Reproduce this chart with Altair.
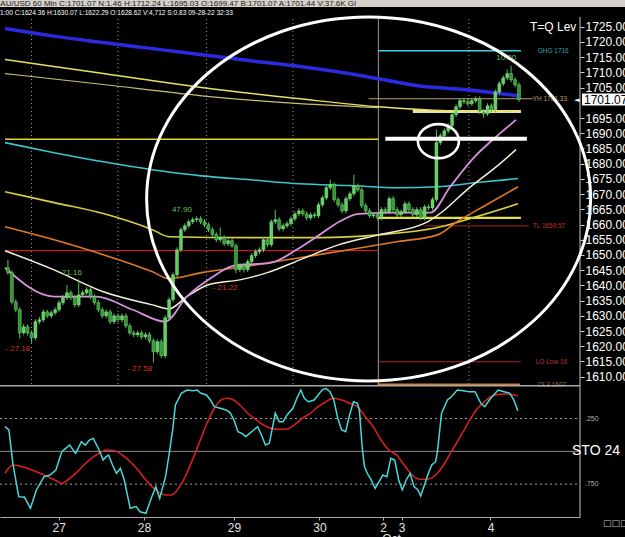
import altair as alt
import pandas as pd

FONT = "Liberation Sans"

# ---------------- header texts ----------------
header_top = "XAU/USD 60 Min C:1701.07 N:1.46 H:1712.24 L:1695.03 O:1699.47 B:1701.07 A:1701.44 V:37.6K GI"
header_bar = "1:00 C:1624.36 H:1630.07 L:1622.29 O:1628.62 V:4,712 S:0.83 09-28-22 32:33"

# ---------------- x axis (hourly bar index) ----------------
day_pos = [12.9, 34.6, 57.5, 79.25, 95.4, 100.15, 122.75]
day_lbl = ["27", "28", "29", "30", "2", "3", "4"]
day_sep = [6, 28, 50.5, 72.5, 117.25]
month_sep = [94.25]
# 1700.00 sits under the last-price box, so it is not listed
price_ticks = [1610, 1615, 1620, 1625, 1630, 1635, 1640, 1645, 1650, 1655, 1660, 1665,
               1670, 1675, 1680, 1685, 1690, 1695, 1705, 1710, 1715, 1720, 1725]

# ---------------- candles ----------------
opens = [1645.8,1644.2,1634.6,1632.0,1624.4,1626.4,1624.4,1622.8,1628.1,1628.7,
         1631.3,1630.0,1631.0,1632.0,1634.3,1636.0,1637.6,1636.0,1633.6,1636.9,
         1637.6,1638.6,1636.3,1634.3,1632.0,1630.0,1631.3,1628.1,1630.0,1628.7,
         1630.0,1626.7,1624.4,1623.8,1624.4,1623.1,1623.8,1621.8,1618.2,1621.5,
         1616.9,1629.4,1635.3,1643.5,1651.7,1658.3,1659.6,1660.9,1661.6,1661.9,
         1660.9,1659.9,1658.3,1656.7,1655.0,1655.7,1653.7,1654.7,1653.0,1645.2,
         1646.5,1645.2,1647.8,1649.8,1651.1,1651.7,1655.0,1653.4,1660.9,1661.6,
         1658.6,1659.6,1660.3,1661.9,1663.5,1664.5,1663.5,1662.2,1663.2,1662.9,
         1666.5,1668.8,1672.1,1673.1,1668.2,1666.5,1664.5,1668.5,1670.1,1672.7,
         1671.4,1666.2,1664.5,1662.9,1663.2,1662.2,1664.9,1664.2,1668.5,1664.9,
         1663.2,1664.2,1666.8,1664.9,1663.2,1664.9,1662.2,1665.8,1665.5,1668.2,
         1686.9,1689.2,1690.8,1692.5,1696.1,1698.7,1700.7,1700.4,1699.7,1700.7,
         1701.3,1697.1,1696.4,1699.0,1697.7,1703.6,1706.3,1708.2,1709.6,1707.6,
         1705.9]
closes = [1644.2,1634.6,1632.0,1624.4,1626.4,1624.4,1622.8,1628.1,1628.7,1631.3,
          1630.0,1631.0,1632.0,1634.3,1636.0,1637.6,1636.0,1633.6,1636.9,1637.6,
          1638.6,1636.3,1634.3,1632.0,1630.0,1631.3,1628.1,1630.0,1628.7,1630.0,
          1626.7,1624.4,1623.8,1624.4,1623.1,1623.8,1621.8,1618.2,1621.5,1616.9,
          1629.4,1635.3,1643.5,1651.7,1658.3,1659.6,1660.9,1661.6,1661.9,1660.9,
          1659.9,1658.3,1656.7,1655.0,1655.7,1653.7,1654.7,1653.0,1645.2,1646.5,
          1645.2,1647.8,1649.8,1651.1,1651.7,1655.0,1653.4,1660.9,1661.6,1658.6,
          1659.6,1660.3,1661.9,1663.5,1664.5,1663.5,1662.2,1663.2,1662.9,1666.5,
          1668.8,1672.1,1673.1,1668.2,1666.5,1664.5,1668.5,1670.1,1672.7,1671.4,
          1666.2,1664.5,1662.9,1663.2,1662.2,1664.9,1664.2,1668.5,1664.9,1663.2,
          1664.2,1666.8,1664.9,1663.2,1664.9,1662.2,1665.8,1665.5,1668.2,1686.9,
          1689.2,1690.8,1692.5,1696.1,1698.7,1700.7,1700.4,1699.7,1700.7,1701.3,
          1697.1,1696.4,1699.0,1697.7,1703.6,1706.3,1708.2,1709.6,1707.6,1705.9,
          1701.07]
highs = [1648.4,1645.0,1635.4,1632.8,1627.3,1627.2,1625.2,1628.9,1629.6,1632.1,
         1632.0,1631.8,1632.8,1635.1,1636.8,1640.2,1638.4,1636.8,1641.9,1638.4,
         1639.4,1639.4,1637.1,1635.1,1632.8,1632.1,1632.1,1630.8,1630.8,1630.8,
         1630.8,1627.5,1625.2,1625.2,1625.2,1624.6,1624.6,1622.6,1622.3,1622.3,
         1630.2,1636.1,1644.3,1652.5,1659.1,1660.4,1661.7,1662.4,1662.7,1662.7,
         1661.7,1660.7,1659.1,1657.5,1659.0,1656.5,1655.5,1655.5,1653.8,1647.3,
         1647.3,1648.6,1650.6,1651.9,1652.5,1655.8,1655.8,1661.7,1664.9,1662.4,
         1660.4,1661.1,1662.7,1664.3,1665.3,1665.3,1664.3,1664.0,1664.0,1667.3,
         1669.6,1672.9,1674.7,1673.9,1669.0,1667.3,1669.3,1670.9,1676.4,1673.5,
         1672.2,1667.0,1665.3,1664.0,1664.0,1665.7,1665.7,1669.3,1669.3,1665.7,
         1665.0,1667.6,1667.6,1665.7,1665.7,1665.7,1666.6,1666.6,1669.0,1691.2,
         1690.0,1691.6,1693.3,1696.9,1699.5,1701.5,1701.5,1701.2,1701.5,1702.1,
         1702.1,1697.9,1699.8,1699.8,1704.4,1707.1,1709.0,1710.9,1712.2,1708.4,
         1706.7]
lows = [1643.5,1633.8,1631.2,1622.5,1623.6,1623.5,1621.2,1622.0,1627.3,1627.9,
        1629.2,1629.2,1630.2,1631.2,1633.5,1635.2,1635.2,1632.8,1632.8,1636.1,
        1636.8,1635.5,1633.5,1631.2,1629.2,1629.2,1627.3,1627.3,1627.9,1627.9,
        1625.9,1623.6,1623.0,1623.0,1622.3,1622.3,1621.0,1614.6,1617.4,1616.1,
        1616.1,1628.6,1634.5,1642.7,1650.9,1657.5,1658.8,1660.1,1660.8,1660.1,
        1659.1,1657.5,1655.9,1654.2,1654.2,1652.9,1652.9,1652.2,1644.0,1644.4,
        1644.2,1644.4,1647.0,1649.0,1650.3,1650.9,1652.6,1652.6,1660.1,1657.8,
        1657.8,1658.8,1659.5,1661.1,1662.7,1662.7,1661.4,1661.4,1662.1,1662.1,
        1665.7,1668.0,1671.3,1667.4,1665.7,1663.7,1663.7,1667.7,1669.3,1670.6,
        1665.4,1663.7,1662.1,1662.1,1661.4,1661.4,1663.4,1663.4,1664.1,1662.4,
        1662.4,1663.4,1664.1,1662.4,1662.4,1661.4,1661.4,1664.7,1664.7,1667.4,
        1686.1,1688.4,1690.0,1691.7,1695.3,1697.9,1699.6,1698.9,1698.9,1699.9,
        1696.3,1695.0,1695.6,1696.9,1696.9,1702.8,1705.5,1707.4,1706.8,1705.1,
        1700.3]
bar_idx = list(range(len(closes)))

# ---------------- moving averages (bar index, price) ----------------
blue_k = [-0.75, 11.75, 24.25, 36.75, 49.25, 61.75, 74.25, 86.75, 94.25, 104.25, 116.75, 129.75]
blue_p = [1724.4, 1721.9, 1719.8, 1717.8, 1715.8, 1713.8, 1711.9, 1709.6, 1707.9, 1705.6, 1704.3, 1702.3]
yela_k = [-0.75, 24.25, 49.25, 74.25, 94.25, 111.75, 129.75]
yela_p = [1714.2, 1709.6, 1705.0, 1701.3, 1698.7, 1697.4, 1697.1]
yelb_k = [-0.75, 24.25, 49.25, 74.25, 94.25]
yelb_p = [1709.6, 1706.0, 1702.3, 1699.7, 1698.4]
cyan_k = [-0.75, 11.75, 24.25, 36.75, 49.25, 61.75, 74.25, 86.75, 99.25, 109.25, 119.25, 129.75]
cyan_p = [1686.9, 1683.6, 1680.6, 1678.0, 1676.0, 1674.7, 1673.4, 1672.8, 1672.1, 1672.4, 1673.8, 1675.1]
yell_k = [-0.75, 11.75, 24.25, 36.75, 41.0, 61.75, 79.25, 94.25, 109.25, 119.25, 129.75]
yell_p = [1670.8, 1667.2, 1663.6, 1658.3, 1656.0, 1655.7, 1655.7, 1656.6, 1659.0, 1662.6, 1666.8]
orng_k = [-0.75, 11.75, 24.25, 36.75, 41.0, 49.25, 61.75, 74.25, 86.75, 99.25, 109.25, 114.25, 121.75, 129.75]
orng_p = [1659.3, 1655.0, 1650.1, 1644.5, 1642.2, 1644.2, 1646.5, 1649.1, 1651.7, 1654.4, 1656.6, 1660.9, 1666.5, 1672.4]
whte_k = [-0.75, 11.75, 24.25, 36.75, 41.0, 45.5, 51.0, 59.25, 66.0, 74.25, 84.25, 94.25, 106.75, 110.5, 116.75, 124.25, 129.25]
whte_p = [1651.4, 1645.1, 1637.9, 1633.6, 1632.3, 1636.3, 1640.2, 1641.9, 1644.2, 1648.4, 1653.4, 1656.6, 1660.9, 1664.2, 1671.4, 1679.0, 1684.6]
pink_k = [-0.75, 11.75, 22.5, 31.75, 40.0, 45.5, 51.75, 57.5, 66.75, 74.25, 79.25, 84.25, 89.25, 99.25, 107.5, 112.5, 118.75, 124.25, 129.25]
pink_p = [1645.8, 1636.3, 1636.3, 1632.0, 1628.1, 1636.3, 1642.5, 1646.5, 1647.4, 1652.4, 1656.6, 1660.9, 1663.5, 1663.9, 1663.9, 1672.4, 1682.3, 1688.9, 1694.4]

# ---------------- horizontal levels ----------------
lvl_names = ["yellow_old", "red_old", "ghg", "yh", "pale", "yellow_new", "tl", "lo", "ol3", "white_mark"]
lvl_price = [1688.0, 1651.4, 1717.1, 1701.33, 1697.1, 1662.2, 1659.57, 1614.9, 1607.4, 1688.2]
lvl_from = [-0.75, -0.75, 94.25, 91.75, 103.0, 94.25, 106.0, 94.25, 94.0, 96.0]
lvl_to = [94.25, 94.25, 130.5, 133.5, 130.5, 130.5, 132.5, 130.5, 130.25, 132.0]

lvl_lbl_text = ["GHG 1716", "YH 1701.33", "TL 1659.57", "LO Low 16", "OL3 1607"]
lvl_lbl_k = [134.75, 133.5, 133.5, 134.25, 134.75]
lvl_lbl_p = [1717.1, 1701.33, 1659.57, 1614.9, 1607.4]

# price pane annotations
note_text = ["47.90", "21.16", "10.80", "- 27.18", "- 27.58", "- 21.22"]
note_k = [44.25, 16.25, 126.75, 2.5, 33.5, 55.25]
note_p = [1664.9, 1644.2, 1714.8, 1619.2, 1612.6, 1639.2]
note_kind = ["hi", "hi", "hi", "lo", "lo", "lo"]

ellipse_k = [91.75]
ellipse_p = [1668.4]
ring_k = [109.5]
ring_p = [1687.4]

# ---------------- stochastic ----------------
fast_k = [-0.75,0.25,1.24,2.74,4.23,5.72,7.22,9.21,10.7,12.2,
          13.7,14.7,15.7,17.2,18.7,19.7,20.7,21.7,23.2,24.2,
          25.0,25.6,26.6,27.6,28.6,29.6,31.1,32.6,33.6,35.1,
          36.6,37.6,38.6,40.1,41.1,41.9,42.6,44.1,45.6,47.1,
          48.1,49.1,50.5,51.5,52.5,54.0,55.5,56.5,57.5,58.5,
          59.5,60.5,61.5,62.5,63.5,64.5,65.5,66.5,67.5,68.0,
          69.0,70.0,71.0,72.5,73.5,74.5,75.4,76.4,77.9,78.9,
          79.9,80.9,81.9,82.9,83.9,84.9,85.9,86.9,87.9,88.9,
          89.4,90.1,90.7,91.4,92.4,93.4,94.4,95.4,96.4,97.4,
          98.4,99.4,100.3,101.3,102.3,103.3,104.3,105.0,105.8,106.8,
          107.8,108.8,109.3,110.3,111.8,112.8,114.3,115.8,117.3,118.8,
          120.3,121.3,122.8,124.7,126.2,127.7,128.7,129.7]
fast_v = [312,337,591,845,850,934,794,693,680,642,
          502,477,452,515,426,452,414,401,490,566,
          540,528,604,667,629,718,934,921,960,972,
          845,769,858,693,502,337,147,58,33,38,
          33,58,71,109,160,172,185,205,261,350,
          363,388,363,337,312,375,452,439,287,210,
          274,274,223,172,96,33,96,122,109,71,
          33,20,46,109,248,337,350,223,122,134,
          185,464,617,667,718,782,731,680,693,553,
          566,718,794,718,667,769,794,840,769,680,
          604,579,490,210,109,84,33,38,46,46,
          134,160,96,33,46,58,109,190]
slow_k = [-0.75,1.24,4.23,7.22,10.2,12.7,13.7,15.2,17.7,20.2,
          23.2,25.1,27.1,29.1,31.1,33.1,35.1,37.6,40.1,41.6,
          43.1,45.1,47.1,49.1,51.0,52.5,54.0,55.5,57.0,59.0,
          61.0,63.0,65.0,67.0,69.0,71.0,72.9,74.9,76.9,78.9,
          80.9,82.9,84.9,86.9,88.9,90.9,92.9,94.9,96.9,98.9,
          100.8,102.8,104.8,106.8,108.8,110.8,112.8,114.8,116.8,118.8,
          120.8,122.8,124.7,126.7,128.7,129.7]
slow_v = [667,604,622,655,693,731,744,718,655,579,
          515,490,495,528,579,642,718,794,833,833,
          794,693,553,401,261,172,114,96,104,147,
          210,256,299,325,332,330,299,248,210,160,
          122,96,109,134,160,236,312,414,490,528,
          604,680,713,711,680,604,502,401,299,198,
          134,84,66,63,71,78]
sto_lines = [0, 500]
sto_dotted = [250, 750]

# ---------------- scales / axes ----------------
XS = alt.Scale(domain=[-0.75, 144.25], nice=False, zero=False)
label_expr = " : ".join(f"datum.value == {v} ? '{t}'" for v, t in zip(day_pos, day_lbl)) + " : ''"
XA = alt.Axis(values=day_pos, labelExpr=label_expr, title="Oct", titleX=391, titleY=16,
              titleBaseline="top", titleAlign="center", titleColor="#e0e0e0", titleFontSize=12,
              titleFont=FONT, titleFontWeight="normal", labelColor="#e0e0e0", labelFontSize=12,
              labelFont=FONT, labelPadding=2, tickSize=3, tickColor="#b0b0b0",
              domainColor="#a8a8a8", domainWidth=1.2, grid=False, labelOverlap=False, labelFlush=False)
PS = alt.Scale(domain=[1610, 1725], range=[376.7, 26.7], nice=False, zero=False)
PA = alt.Axis(orient="right", values=price_ticks, format=".2f", title=None, labelColor="#ffffff",
              labelFontSize=12, labelFont=FONT, tickColor="#d0d0d0", tickSize=4, labelPadding=1,
              domain=False, grid=False, labelOverlap=False, labelFlush=False)
SS = alt.Scale(domain=[0, 1000], range=[385.7, 517], nice=False, zero=False)


def px(f):
    return alt.X(f, type="quantitative", scale=XS, axis=XA)


def py(f):
    return alt.Y(f, type="quantitative", scale=PS, axis=PA)


def sy(f):
    return alt.Y(f, type="quantitative", scale=SS, axis=None)


one = pd.DataFrame({"n": [0]})
price_layers = []

# header
price_layers.append(alt.Chart(one).mark_rect(color="#d4d0c8").encode(
    x=alt.value(0), x2=alt.value(625), y=alt.value(0), y2=alt.value(7)))
price_layers.append(alt.Chart(pd.DataFrame({"t": [header_top]})).mark_text(
    align="left", baseline="alphabetic", fontSize=8, font=FONT, color="#1a1a1a").encode(
    x=alt.value(-5), y=alt.value(5.5), text="t:N"))
price_layers.append(alt.Chart(pd.DataFrame({"t": [header_bar]})).mark_text(
    align="left", baseline="middle", fontSize=6.6, font=FONT, color="#ffffff").encode(
    x=alt.value(0), y=alt.value(12.7), text="t:N"))

# vertical separators
price_layers.append(alt.Chart(pd.DataFrame({"k": day_sep})).mark_rule(
    color="#9a9a9a", strokeWidth=1, strokeDash=[1, 3]).encode(
    x=px("k"), y=alt.value(19), y2=alt.value(385)))
price_layers.append(alt.Chart(pd.DataFrame({"k": month_sep})).mark_rule(
    color="#8a8080", strokeWidth=1.2).encode(x=px("k"), y=alt.value(17), y2=alt.value(385)))
# right frame line
price_layers.append(alt.Chart(one).mark_rule(color="#c8c8c8", strokeWidth=1).encode(
    x=alt.value(580), y=alt.value(17), y2=alt.value(517)))

# level segments
lvl_style = {
    "yellow_old": ("#e6d42a", 1.5), "red_old": ("#c02020", 1.2), "ghg": ("#40d0e0", 1.6),
    "yh": ("#b8a070", 1.0), "pale": ("#e8e4a8", 3.0), "yellow_new": ("#e8e040", 2.2),
    "tl": ("#b02020", 1.0), "lo": ("#c02020", 1.0), "ol3": ("#d08030", 2.0),
}
lvl_df = pd.DataFrame({"name": lvl_names, "p": lvl_price, "k0": lvl_from, "k1": lvl_to})
for name, (col, wdt) in lvl_style.items():
    price_layers.append(alt.Chart(lvl_df[lvl_df.name == name]).mark_rule(
        color=col, strokeWidth=wdt).encode(x=px("k0"), x2="k1", y=py("p")))

# moving averages
ma_defs = [
    (blue_k, blue_p, "#2a2ae0", 3.5),
    (yela_k, yela_p, "#e8e060", 1.5),
    (yelb_k, yelb_p, "#c8c070", 1.2),
    (cyan_k, cyan_p, "#38c8d0", 1.6),
    (yell_k, yell_p, "#d8d040", 1.6),
    (orng_k, orng_p, "#e07828", 1.6),
    (whte_k, whte_p, "#f4f0d8", 1.5),
    (pink_k, pink_p, "#d890e0", 1.8),
]
for ks, ps, col, wdt in ma_defs:
    price_layers.append(alt.Chart(pd.DataFrame({"k": ks, "p": ps})).mark_line(
        color=col, strokeWidth=wdt, interpolate="monotone").encode(x=px("k"), y=py("p")))

# candles
cdf = pd.DataFrame({"k": bar_idx, "o": opens, "h": highs, "l": lows, "c": closes})
cdf["dir"] = ["up" if c >= o else "down" for o, c in zip(opens, closes)]
price_layers.append(alt.Chart(cdf).mark_rule(color="#58c058", strokeWidth=1).encode(
    x=px("k"), y=py("l"), y2="h"))
price_layers.append(alt.Chart(cdf).mark_bar(size=3, stroke="#a0f0a0", strokeWidth=0.4).encode(
    x=px("k"), y=py("o"), y2="c",
    color=alt.Color("dir:N", scale=alt.Scale(domain=["up", "down"], range=["#62d062", "#2e9a2e"]), legend=None)))

# white annotation line (drawn over candles)
price_layers.append(alt.Chart(lvl_df[lvl_df.name == "white_mark"]).mark_rule(
    color="#ffffff", strokeWidth=4).encode(x=px("k0"), x2="k1", y=py("p")))

# price annotations
ndf = pd.DataFrame({"t": note_text, "k": note_k, "p": note_p, "kind": note_kind})
price_layers.append(alt.Chart(ndf[ndf.kind == "hi"]).mark_text(
    fontSize=8, font=FONT, color="#60c060").encode(x=px("k"), y=py("p"), text="t:N"))
price_layers.append(alt.Chart(ndf[ndf.kind == "lo"]).mark_text(
    fontSize=8, font=FONT, color="#d03030").encode(x=px("k"), y=py("p"), text="t:N"))

# level labels
llc = ["#3aa0a8", "#b8a070", "#c03030", "#c03030", "#907050"]
for t, k, p, col in zip(lvl_lbl_text, lvl_lbl_k, lvl_lbl_p, llc):
    price_layers.append(alt.Chart(pd.DataFrame({"t": [t], "k": [k], "p": [p]})).mark_text(
        align="left", baseline="middle", fontSize=6.5, font=FONT, color=col).encode(
        x=px("k"), y=py("p"), text="t:N"))

price_layers.append(alt.Chart(pd.DataFrame({"t": ["T=Q Lev"]})).mark_text(
    align="left", baseline="middle", fontSize=12, font=FONT, color="#ffffff").encode(
    x=alt.value(530), y=alt.value(27), text="t:N"))

# ellipse and ring
ell_path = "M-1,0A1,0.82,0,1,0,1,0A1,0.82,0,1,0,-1,0Z"
price_layers.append(alt.Chart(pd.DataFrame({"k": ellipse_k, "p": ellipse_p})).mark_point(
    shape=ell_path, size=197136, filled=False, stroke="#ffffff", strokeWidth=3, opacity=1).encode(
    x=px("k"), y=py("p")))
ring_path = "M-1,0A1,0.83,0,1,0,1,0A1,0.83,0,1,0,-1,0Z"
price_layers.append(alt.Chart(pd.DataFrame({"k": ring_k, "p": ring_p})).mark_point(
    shape=ring_path, size=1681, filled=False, stroke="#ffffff", strokeWidth=2.6, opacity=1).encode(
    x=px("k"), y=py("p")))

# last price box
last = pd.DataFrame({"c": [closes[-1]], "t": [f"{closes[-1]:.2f}"]})
box_path = "M-1,-0.28L1,-0.28L1,0.28L-1,0.28Z"
price_layers.append(alt.Chart(last).mark_point(
    shape=box_path, size=1849, filled=True, color="#ffffff", opacity=1).encode(
    x=alt.value(603.5), y=py("c")))
price_layers.append(alt.Chart(last).mark_text(
    align="left", baseline="middle", fontSize=12, font=FONT, color="#000000").encode(
    x=alt.value(584), y=py("c"), text="t:N"))
price_layers.append(alt.Chart(last).mark_text(
    align="center", baseline="middle", fontSize=7, font="DejaVu Sans", color="#ffffff").encode(
    x=alt.value(577), y=py("c"), text=alt.value("◄")))

price = alt.layer(*price_layers)

# ---------------- stochastic pane ----------------
sto_layers = []
sto_layers.append(alt.Chart(pd.DataFrame({"v": [sto_lines[0]]})).mark_rule(
    color="#a8a8a8", strokeWidth=1.5).encode(x=alt.value(0), x2=alt.value(580), y=sy("v")))
sto_layers.append(alt.Chart(pd.DataFrame({"v": [sto_lines[1]]})).mark_rule(
    color="#8c8c8c", strokeWidth=1).encode(x=alt.value(0), x2=alt.value(580), y=sy("v")))
sto_layers.append(alt.Chart(pd.DataFrame({"v": sto_dotted})).mark_rule(
    color="#a0a0a0", strokeWidth=1, strokeDash=[2, 3]).encode(x=alt.value(0), x2=alt.value(580), y=sy("v")))
sto_layers.append(alt.Chart(pd.DataFrame({"k": slow_k, "v": slow_v})).mark_line(
    color="#d42020", strokeWidth=1.6, interpolate="monotone").encode(x=px("k"), y=sy("v")))
sto_layers.append(alt.Chart(pd.DataFrame({"k": fast_k, "v": fast_v})).mark_line(
    color="#48d8d8", strokeWidth=1.5).encode(x=px("k"), y=sy("v")))
sto_layers.append(alt.Chart(pd.DataFrame({"v": sto_dotted, "t": [f".{v}" for v in sto_dotted]})).mark_text(
    align="left", baseline="middle", fontSize=7, font=FONT, color="#b0b0b0").encode(
    x=alt.value(585), y=sy("v"), text="t:N"))
sto_layers.append(alt.Chart(pd.DataFrame({"v": [500], "t": ["STO  24"]})).mark_text(
    align="left", baseline="middle", fontSize=14, font=FONT, color="#ffffff").encode(
    x=alt.value(572), y=sy("v"), text="t:N"))
sto_layers.append(alt.Chart(pd.DataFrame({"t": ["□□□"]})).mark_text(
    align="left", baseline="middle", fontSize=9, font="DejaVu Sans", color="#c0c0c0").encode(
    x=alt.value(603), y=alt.value(523), text="t:N"))

stoch = alt.layer(*sto_layers)

chart = alt.layer(price, stoch).resolve_scale(y="independent").properties(
    width=580, height=517,
    padding={"left": 0, "top": 0, "right": 45, "bottom": 20},
    autosize=alt.AutoSizeParams(type="none"),
    background="#000000",
).configure_view(stroke=None)

chart.save("out.html", embed_options={"renderer": "svg", "actions": False})
